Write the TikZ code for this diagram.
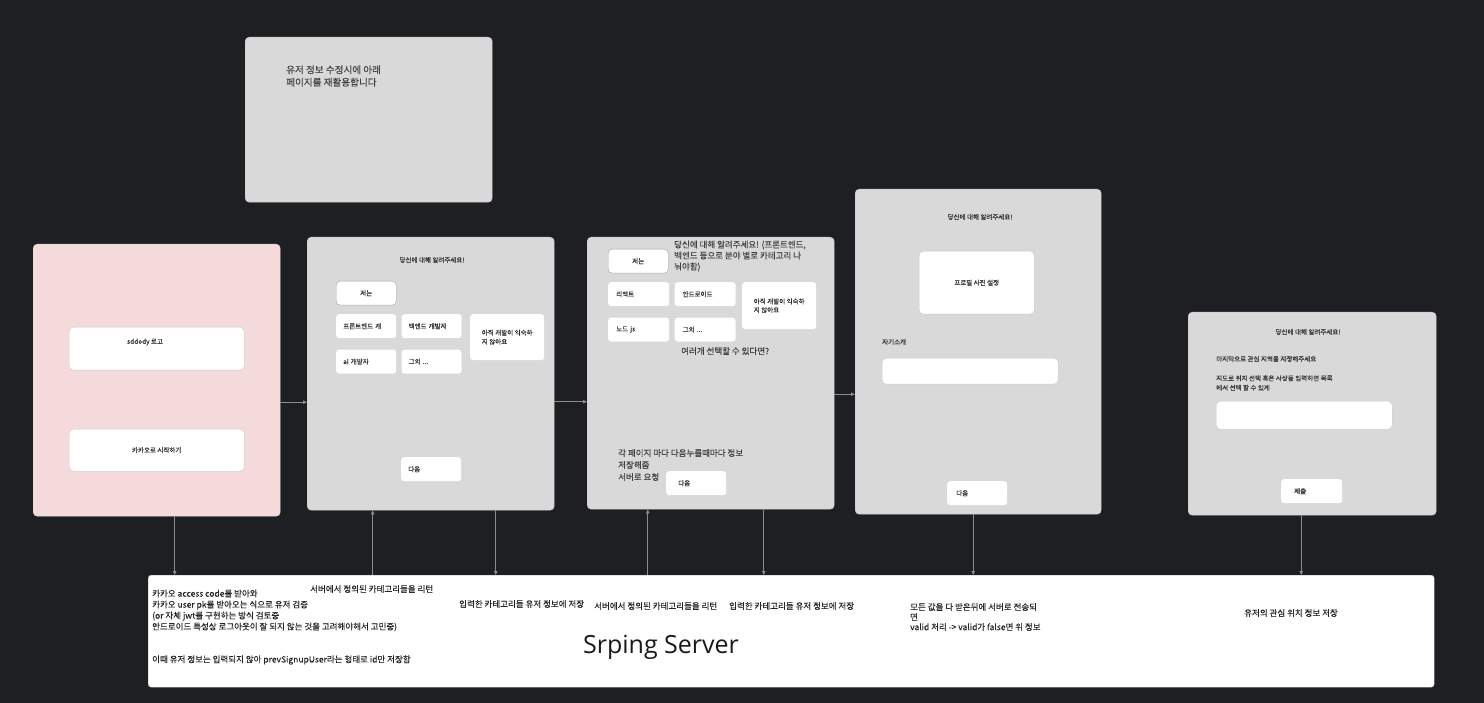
\documentclass[tikz,border=0pt]{standalone}
\usepackage{fontspec}
\setmainfont{Noto Sans CJK KR}[FakeBold=0.2]
\newfontfamily\srvfont{Open Sans}
\usepackage{xcolor}
\usepackage{tikz}
\usetikzlibrary{positioning,calc,arrows.meta}

\definecolor{bgdark}{RGB}{30,31,34}
\definecolor{scrgray}{RGB}{217,217,217}
\definecolor{scrpink}{RGB}{245,218,220}
\definecolor{linegray}{RGB}{140,140,140}
\definecolor{txtgray}{RGB}{50,50,50}
\newcommand{\uitiny}{\fontsize{6.5}{9}\selectfont}
\newcommand{\uinote}{\fontsize{8.5}{11}\selectfont}
\newcommand{\uibig}{\fontsize{9.6}{12.5}\selectfont}

\begin{document}
\begin{tikzpicture}[x=1pt, y=-1pt, >={Triangle[length=4pt,width=3.5pt]},
    screen/.style={draw=black!22, fill=scrgray, rounded corners=4pt, anchor=north west, inner sep=0pt},
    field/.style={draw=black!22, fill=white, rounded corners=4pt, anchor=north west, inner sep=0pt, font=\uitiny, text=txtgray, align=center},
    opt/.style={fill=white, rounded corners=3pt, anchor=north west, minimum width=60pt, minimum height=24pt, inner xsep=7pt, text width=46pt, align=left, font=\uitiny, text=txtgray},
    ui/.style={inner sep=0pt, font=\uitiny, text=txtgray, align=left},
    note/.style={inner sep=0pt, font=\uinote, text=black!85, align=left, anchor=west},
    conn/.style={->, draw=linegray, line width=0.8pt}]
    \fill[bgdark] (0,0) rectangle (1484,703);

    \node[screen, minimum width=247pt, minimum height=165pt] (reuse) at (245,37) {};
    \node[note, font=\uibig, text=black!75] (reusetxt) at (286,76) {유저 정보 수정시에 아래\\페이지를 재활용합니다};

    \node[screen, fill=scrpink, draw=black!15, minimum width=247pt, minimum height=272pt] (login) at (33,244) {};
    \node[field, minimum width=175pt, minimum height=43pt] (logo) at (69,327) {};
    \node[ui] (logotxt) at (145,342) {sddody 로고};
    \node[field, minimum width=175pt, minimum height=42pt] (kakao) at (69,429) {카카오로 시작하기};

    \node[screen, minimum width=247pt, minimum height=273pt] (role) at (307,237) {};
    \node[ui] (roletitle) at (432,260) {당신에 대해 알려주세요!};
    \node[field, draw=black!35, minimum width=60pt, minimum height=24pt] (rolehead) at (336,281) {저는};
    \node[opt] (front) at (336,314) {프론트엔드 개};
    \node[opt, right=5pt of front] (back) {백엔드 개발자};
    \node[opt, below=11pt of front] (aidev) {ai 개발자};
    \node[opt, right=5pt of aidev] (etc) {그외 ...};
    \node[opt, minimum width=74pt, minimum height=46pt, text width=, font=\fontsize{6.5}{9}\selectfont] (newbie) at (470,314) {아직 개발이 익숙하\\지 않아요};
    \node[opt] (next1) at (401,457) {다음};

    \node[screen, minimum width=247pt, minimum height=272pt] (stack) at (587,237) {};
    \node[field, draw=black!35, minimum width=60pt, minimum height=24pt] (stackhead) at (608,249) {저는};
    \node[note, text=black!75] (stacktitle) at (674,256) {당신에 대해 알려주세요! (프론트엔드,\\백엔드 등으로 분야 별로 카테고리 나\\눠야함)};
    \node[opt, minimum width=61pt, inner xsep=8pt, text width=45pt] (react) at (608,282) {리액트};
    \node[opt, minimum width=61pt, inner xsep=8pt, text width=45pt, right=5pt of react] (android) {안드로이드};
    \node[opt, minimum width=61pt, inner xsep=8pt, text width=45pt, below=11pt of react] (nodejs) {노드 js};
    \node[opt, minimum width=61pt, inner xsep=8pt, text width=45pt, right=5pt of nodejs] (etc2) {그외 ...};
    \node[opt, minimum width=74pt, minimum height=47pt, text width=, font=\fontsize{6.5}{8.5}\selectfont] (newbie2) at (742,282) {아직 개발이 익숙하\\지 않아요};
    \node[note, text=black!75] (multi) at (681,351) {여러개 선택할 수 있다면?};
    \node[note, font=\fontsize{8.5}{12}\selectfont, text=black!75] (savenote) at (618,465) {각 페이지 마다 다음누를때마다 정보\\저장해줌\\서버로 요청};
    \node[opt, inner xsep=12pt, text width=36pt] (next2) at (666,471) {다음};

    \node[screen, minimum width=246pt, minimum height=325pt] (profile) at (855,189) {};
    \node[ui] (proftitle) at (980,217) {당신에 대해 알려주세요!};
    \node[field, minimum width=115pt, minimum height=63pt] (photo) at (919,251) {프로필 사진 설정};
    \node[ui, anchor=west] (introlbl) at (882,342) {자기소개};
    \node[field, minimum width=176pt, minimum height=26pt] (intro) at (882,358) {};
    \node[opt, inner xsep=9pt, text width=42pt] (next3) at (947,481) {다음};

    \node[screen, minimum width=248pt, minimum height=203pt] (region) at (1188,312) {};
    \node[ui] (regiontitle) at (1308,332) {당신에 대해 알려주세요!};
    \node[ui, anchor=west] (regionlbl) at (1216,359) {마지막으로 관심 지역을 지정해주세요};
    \node[ui, anchor=west, font=\fontsize{6.5}{9.5}\selectfont] (regionhint) at (1216,383) {지도로 위치 선택 혹은 사상동 입력하면 목록\\에서 선택 할 수 있게};
    \node[field, minimum width=176pt, minimum height=28pt] (regioninput) at (1216,401) {};
    \node[opt, minimum width=61pt, inner xsep=13pt, text width=35pt] (submit) at (1281,479) {제출};

    \node[field, draw=black!30, rounded corners=3pt, minimum width=1286pt, minimum height=112pt] (server) at (148,575) {};
    \node[inner sep=0pt, font=\srvfont\fontsize{25}{30}\selectfont, text=black!90] (srvname) at (661,647) {Srping Server};
    \node[note] (authnote) at (152,610.5) {카카오 access code를 받아와\\카카오 user pk를 받아오는 식으로 유저 검증\\(or 자체 jwt를 구현하는 방식 검토중\\안드로이드 특성상 로그아웃이 잘 되지 않는 것을 고려해야해서 고민중)};
    \node[note] (prevnote) at (152,660) {이때 유저 정보는 입력되지 않아 prevSignupUser라는 형태로 id만 저장함};
    \node[note] (catret1) at (310,589) {서버에서 정의된 카테고리들을 리턴};
    \node[note] (catsave1) at (459,604) {입력한 카테고리들 유저 정보에 저장};
    \node[note] (catret2) at (594,606) {서버에서 정의된 카테고리들을 리턴};
    \node[note] (catsave2) at (729,606) {입력한 카테고리들 유저 정보에 저장};
    \node[note, font=\fontsize{8.5}{10}\selectfont] (validnote) at (910,617) {모든 값을 다 받은뒤에 서버로 전송되\\면\\valid 처리 -> valid가 false면 위 정보};
    \node[inner sep=0pt, font=\uinote, text=black!85] (regionsave) at (1291,613) {유저의 관심 위치 정보 저장};

    \draw[conn] ([yshift=-22pt]login.east) -- ([yshift=-22pt]login.east -| role.west);
    \draw[conn] ([yshift=-28pt]role.east) -- ([yshift=-28pt]role.east -| stack.west);
    \draw[conn] ([yshift=-21pt]stack.east) -- ([yshift=-21pt]stack.east -| profile.west);
    \draw[conn] ([xshift=18pt]login.south) -- ([xshift=18pt]login.south |- server.north);
    \draw[conn, <-] ([xshift=-58pt]role.south) -- ([xshift=-58pt]role.south |- server.north);
    \draw[conn] ([xshift=65pt]role.south) -- ([xshift=65pt]role.south |- server.north);
    \draw[conn, <-] ([xshift=-63pt]stack.south) -- ([xshift=-63pt]stack.south |- server.north);
    \draw[conn] ([xshift=53pt]stack.south) -- ([xshift=53pt]stack.south |- server.north);
    \draw[conn] ([xshift=-5pt]profile.south) -- ([xshift=-5pt]profile.south |- server.north);
    \draw[conn] ([xshift=-11pt]region.south) -- ([xshift=-11pt]region.south |- server.north);
\end{tikzpicture}
\end{document}
